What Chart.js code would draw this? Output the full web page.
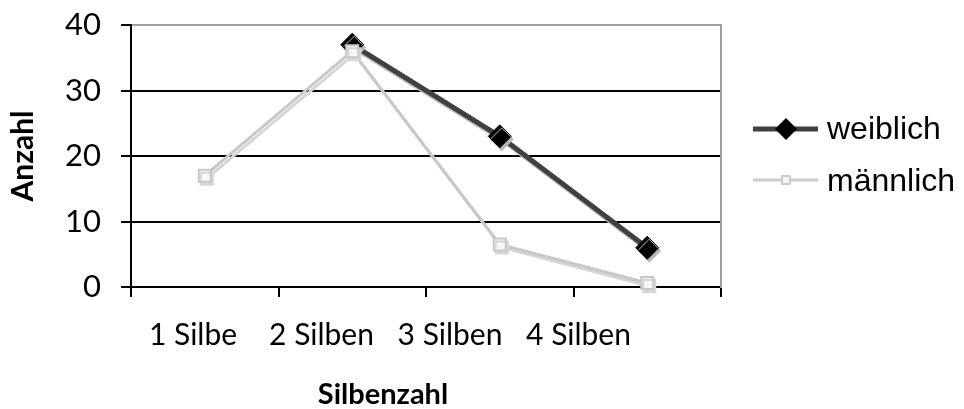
<!DOCTYPE html>
<html>
<head>
<meta charset="utf-8">
<script src="https://cdn.jsdelivr.net/npm/chart.js@4.4.0/dist/chart.umd.min.js"></script>
<style>
    html, body { margin: 0; padding: 0; background: #fff; }
    #wrap { width: 964px; height: 409px; }
</style>
</head>
<body>
<div id="wrap"><canvas id="silbenChart" width="964" height="409"></canvas></div>
<script>
// Silbenzahl nach Geschlecht

const categories = ['1 Silbe', '2 Silben', '3 Silben', '4 Silben'];
const weiblich = [null, 37, 23, 6];
const maennlich = [17, 36, 6.5, 0.6];
const yTicks = [0, 10, 20, 30, 40];
const seriesNames = ['weiblich', 'männlich'];
const xTitle = 'Silbenzahl';
const yTitle = 'Anzahl';

const tickFont = { family: 'Lato', size: 30 };
const yTickFont = { family: 'Lato', size: 31 };
const yTitleFont = { family: 'Lato', size: 30, weight: 'bold' };

// Excel-like drop shadow under lines and markers
const shadowPlugin = {
    id: 'shadow',
    beforeDatasetDraw(chart, args) {
        const ctx = chart.ctx;
        ctx.save();
        ctx.shadowColor = args.meta.label === seriesNames[0] ? '#b8b8b8' : '#d6d6d6';
        ctx.shadowOffsetX = 2;
        ctx.shadowOffsetY = 3;
        ctx.shadowBlur = 0;
    },
    afterDatasetDraw(chart) {
        chart.ctx.restore();
    }
};

// legend on the right + x title (sits left of centre in the original)
const legendPlugin = {
    id: 'sideLegend',
    afterDraw(chart) {
        const ctx = chart.ctx;
        ctx.save();

        // weiblich
        let y = 129;
        ctx.strokeStyle = '#404040';
        ctx.lineWidth = 5;
        ctx.beginPath();
        ctx.moveTo(753, y);
        ctx.lineTo(818, y);
        ctx.stroke();
        ctx.fillStyle = '#000';
        ctx.beginPath();
        ctx.moveTo(786, y - 11);
        ctx.lineTo(797, y);
        ctx.lineTo(786, y + 11);
        ctx.lineTo(775, y);
        ctx.closePath();
        ctx.fill();

        // männlich
        y = 180;
        ctx.strokeStyle = '#cccccc';
        ctx.lineWidth = 3;
        ctx.beginPath();
        ctx.moveTo(753, y);
        ctx.lineTo(818, y);
        ctx.stroke();
        ctx.fillStyle = '#f4f4f4';
        ctx.lineWidth = 2;
        ctx.fillRect(782, y - 4, 8, 8);
        ctx.strokeRect(782, y - 4, 8, 8);

        ctx.fillStyle = '#000';
        ctx.font = '32px "Liberation Sans", Arial, sans-serif';
        ctx.textBaseline = 'middle';
        ctx.textAlign = 'left';
        ctx.fillText(seriesNames[0], 827, 130);
        ctx.fillText(seriesNames[1], 827, 182);

        ctx.font = 'bold 29px Lato, sans-serif';
        ctx.textAlign = 'center';
        ctx.textBaseline = 'alphabetic';
        ctx.fillText(xTitle, 383, 404);
        ctx.restore();
    }
};

const ctx = document.getElementById('silbenChart').getContext('2d');

new Chart(ctx, {
    type: 'line',
    data: {
        labels: categories,
        datasets: [
            {
                label: seriesNames[0],
                data: weiblich,
                borderColor: '#404040',
                borderWidth: 5,
                pointStyle: 'rectRot',
                pointRadius: 11.5,
                pointBackgroundColor: '#000',
                pointBorderColor: '#000',
                pointBorderWidth: 1,
                tension: 0,
                clip: false,
                order: 1
            },
            {
                label: seriesNames[1],
                data: maennlich,
                borderColor: '#c8c8c8',
                borderWidth: 3,
                pointStyle: 'rect',
                pointRadius: 8.5,
                pointBackgroundColor: '#f6f6f6',
                pointBorderColor: '#c8c8c8',
                pointBorderWidth: 2,
                tension: 0,
                clip: false,
                order: 0
            }
        ]
    },
    options: {
        responsive: false,
        animation: false,
        layout: {
            padding: { top: 25, right: 243, bottom: 0, left: 0 }
        },
        plugins: {
            legend: { display: false },
            tooltip: { enabled: false }
        },
        scales: {
            // category axis: carries the points and the tick marks
            x: {
                offset: true,
                afterFit(scale) {
                    scale.height = 12;
                    scale.paddingLeft = 0;
                    scale.paddingRight = 0;
                },
                grid: {
                    display: true,
                    drawOnChartArea: false,
                    offset: true,
                    tickLength: 10,
                    color: '#000',
                    lineWidth: 2
                },
                border: { color: '#000', width: 2 },
                ticks: { display: false }
            },
            // label axis: the original's category labels are spaced tighter than the categories
            xLabels: {
                type: 'linear',
                position: 'bottom',
                min: -0.4825,
                max: 4.109,
                afterFit(scale) {
                    scale.height = 110;
                    scale.paddingLeft = 0;
                    scale.paddingRight = 0;
                },
                afterBuildTicks(scale) {
                    scale.ticks = categories.map((c, i) => ({ value: i }));
                },
                grid: { display: false, drawTicks: false },
                border: { display: false },
                ticks: {
                    color: '#000',
                    font: tickFont,
                    padding: 18,
                    maxRotation: 0,
                    autoSkip: false,
                    callback: v => categories[v]
                }
            },
            y: {
                min: 0,
                max: 40,
                afterFit(scale) {
                    scale.width = 131;
                    scale.paddingTop = 0;
                    scale.paddingBottom = 0;
                },
                afterBuildTicks(scale) {
                    scale.ticks = yTicks.map(v => ({ value: v }));
                },
                grid: {
                    color: c => (c.tick && c.tick.value === 40 ? '#a0a0a0' : '#000'),
                    tickColor: '#000',
                    lineWidth: 2,
                    tickLength: 10
                },
                border: { color: '#000', width: 2 },
                ticks: {
                    color: '#000',
                    font: yTickFont,
                    padding: 20
                },
                title: {
                    display: true,
                    text: yTitle,
                    color: '#000',
                    font: yTitleFont,
                    padding: { top: 5, bottom: 0 }
                }
            },
            y2: {
                position: 'right',
                afterFit(scale) {
                    scale.width = 0;
                    scale.paddingTop = 0;
                    scale.paddingBottom = 0;
                },
                ticks: { display: false },
                grid: { drawOnChartArea: false, drawTicks: false },
                border: { color: '#a0a0a0', width: 2 }
            }
        }
    },
    plugins: [shadowPlugin, legendPlugin]
});
</script>
</body>
</html>
